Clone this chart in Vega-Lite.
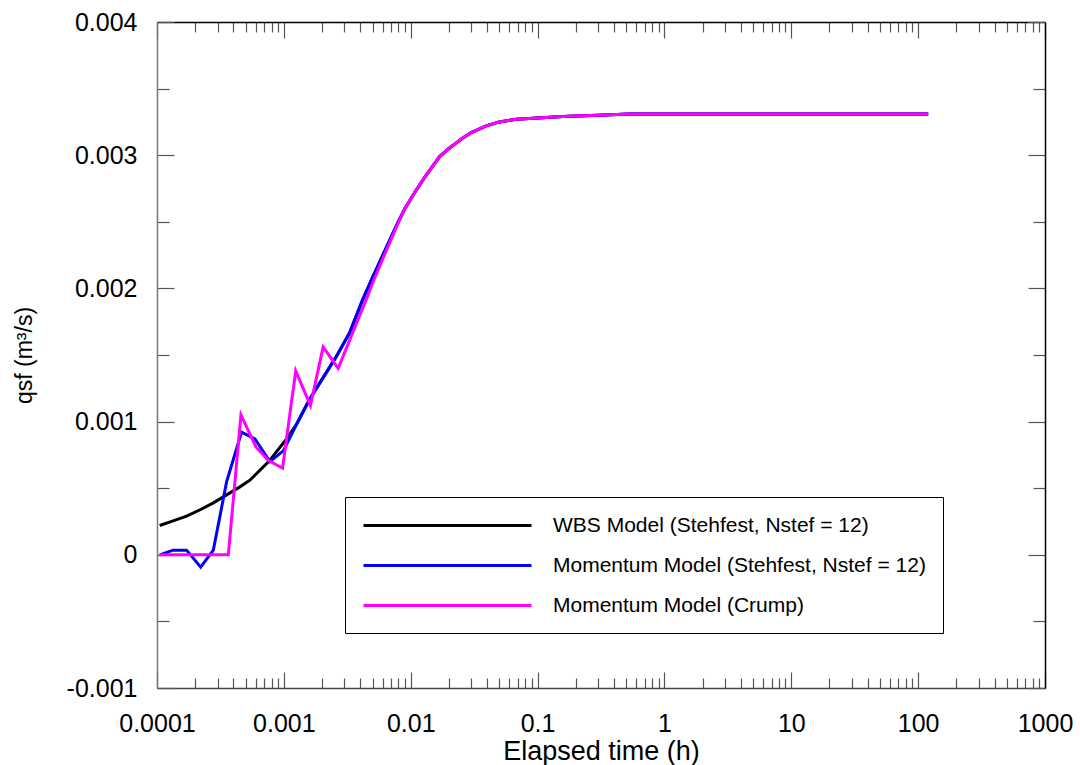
{
  "$schema": "https://vega.github.io/schema/vega-lite/v6.json",
  "width": 888,
  "height": 666,
  "autosize": {"type": "none"},
  "padding": {"left": 157, "top": 22, "right": 35, "bottom": 77},
  "background": "white",
  "config": {
    "view": {"stroke": null},
    "font": "Liberation Sans",
    "axis": {"grid": false, "labelFont": "Liberation Sans", "titleFont": "Liberation Sans", "labelColor": "black", "titleColor": "black", "titleFontWeight": "normal", "tickColor": "#555", "tickWidth": 1.2, "domainWidth": 1.5}
  },
  "data": {
    "values": [
      {"model": "WBS", "t": 0.000105, "q": 0.00022},
      {"model": "WBS", "t": 0.000134, "q": 0.000255},
      {"model": "WBS", "t": 0.000171, "q": 0.00029},
      {"model": "WBS", "t": 0.000221, "q": 0.00034},
      {"model": "WBS", "t": 0.000278, "q": 0.00039},
      {"model": "WBS", "t": 0.000354, "q": 0.00045},
      {"model": "WBS", "t": 0.00045, "q": 0.00051},
      {"model": "WBS", "t": 0.00054, "q": 0.00056},
      {"model": "WBS", "t": 0.000776, "q": 0.00071},
      {"model": "WBS", "t": 0.00105, "q": 0.00087},
      {"model": "WBS", "t": 0.00126, "q": 0.00098},
      {"model": "WBS", "t": 0.0016, "q": 0.00117},
      {"model": "WBS", "t": 0.00204, "q": 0.00133},
      {"model": "WBS", "t": 0.0026, "q": 0.00149},
      {"model": "WBS", "t": 0.00331, "q": 0.00167},
      {"model": "WBS", "t": 0.0042, "q": 0.00192},
      {"model": "WBS", "t": 0.00505, "q": 0.00209},
      {"model": "WBS", "t": 0.0077, "q": 0.00247},
      {"model": "WBS", "t": 0.009, "q": 0.0026},
      {"model": "WBS", "t": 0.0111, "q": 0.00274},
      {"model": "WBS", "t": 0.013, "q": 0.00284},
      {"model": "WBS", "t": 0.0169, "q": 0.00299},
      {"model": "WBS", "t": 0.02, "q": 0.00305},
      {"model": "WBS", "t": 0.0258, "q": 0.00313},
      {"model": "WBS", "t": 0.03, "q": 0.00317},
      {"model": "WBS", "t": 0.0394, "q": 0.00322},
      {"model": "WBS", "t": 0.05, "q": 0.00325},
      {"model": "WBS", "t": 0.068, "q": 0.00327},
      {"model": "WBS", "t": 0.1, "q": 0.00328},
      {"model": "WBS", "t": 0.158, "q": 0.00329},
      {"model": "WBS", "t": 0.3, "q": 0.0033},
      {"model": "WBS", "t": 0.53, "q": 0.00331},
      {"model": "WBS", "t": 2, "q": 0.00331},
      {"model": "WBS", "t": 10, "q": 0.00331},
      {"model": "WBS", "t": 120, "q": 0.00331},

      {"model": "MomS", "t": 0.000105, "q": 0.0},
      {"model": "MomS", "t": 0.000134, "q": 0.000035},
      {"model": "MomS", "t": 0.000171, "q": 0.000035},
      {"model": "MomS", "t": 0.000221, "q": -0.000093},
      {"model": "MomS", "t": 0.000278, "q": 0.000035},
      {"model": "MomS", "t": 0.000354, "q": 0.00055},
      {"model": "MomS", "t": 0.000464, "q": 0.00092},
      {"model": "MomS", "t": 0.000591, "q": 0.00087},
      {"model": "MomS", "t": 0.000776, "q": 0.0007},
      {"model": "MomS", "t": 0.00099, "q": 0.00078},
      {"model": "MomS", "t": 0.00126, "q": 0.00098},
      {"model": "MomS", "t": 0.0016, "q": 0.00117},
      {"model": "MomS", "t": 0.00204, "q": 0.00133},
      {"model": "MomS", "t": 0.0026, "q": 0.00149},
      {"model": "MomS", "t": 0.00331, "q": 0.00167},
      {"model": "MomS", "t": 0.0042, "q": 0.00192},
      {"model": "MomS", "t": 0.00505, "q": 0.00209},
      {"model": "MomS", "t": 0.0077, "q": 0.00247},
      {"model": "MomS", "t": 0.009, "q": 0.0026},
      {"model": "MomS", "t": 0.0111, "q": 0.00274},
      {"model": "MomS", "t": 0.013, "q": 0.00284},
      {"model": "MomS", "t": 0.0169, "q": 0.00299},
      {"model": "MomS", "t": 0.02, "q": 0.00305},
      {"model": "MomS", "t": 0.0258, "q": 0.00313},
      {"model": "MomS", "t": 0.03, "q": 0.00317},
      {"model": "MomS", "t": 0.0394, "q": 0.00322},
      {"model": "MomS", "t": 0.05, "q": 0.00325},
      {"model": "MomS", "t": 0.068, "q": 0.00327},
      {"model": "MomS", "t": 0.1, "q": 0.00328},
      {"model": "MomS", "t": 0.158, "q": 0.00329},
      {"model": "MomS", "t": 0.3, "q": 0.0033},
      {"model": "MomS", "t": 0.53, "q": 0.00331},
      {"model": "MomS", "t": 2, "q": 0.00331},
      {"model": "MomS", "t": 10, "q": 0.00331},
      {"model": "MomS", "t": 120, "q": 0.00331},

      {"model": "MomC", "t": 0.000105, "q": 0.0},
      {"model": "MomC", "t": 0.000365, "q": 0.0},
      {"model": "MomC", "t": 0.000459, "q": 0.00105},
      {"model": "MomC", "t": 0.000602, "q": 0.00081},
      {"model": "MomC", "t": 0.000753, "q": 0.00071},
      {"model": "MomC", "t": 0.000977, "q": 0.00065},
      {"model": "MomC", "t": 0.00124, "q": 0.00138},
      {"model": "MomC", "t": 0.00162, "q": 0.00112},
      {"model": "MomC", "t": 0.00204, "q": 0.00156},
      {"model": "MomC", "t": 0.00268, "q": 0.0014},
      {"model": "MomC", "t": 0.00448, "q": 0.00192},
      {"model": "MomC", "t": 0.00505, "q": 0.00205},
      {"model": "MomC", "t": 0.0077, "q": 0.00246},
      {"model": "MomC", "t": 0.009, "q": 0.0026},
      {"model": "MomC", "t": 0.0111, "q": 0.00274},
      {"model": "MomC", "t": 0.013, "q": 0.00284},
      {"model": "MomC", "t": 0.0169, "q": 0.00299},
      {"model": "MomC", "t": 0.02, "q": 0.00305},
      {"model": "MomC", "t": 0.0258, "q": 0.00313},
      {"model": "MomC", "t": 0.03, "q": 0.00317},
      {"model": "MomC", "t": 0.0394, "q": 0.00322},
      {"model": "MomC", "t": 0.05, "q": 0.00325},
      {"model": "MomC", "t": 0.068, "q": 0.00327},
      {"model": "MomC", "t": 0.1, "q": 0.00328},
      {"model": "MomC", "t": 0.158, "q": 0.00329},
      {"model": "MomC", "t": 0.3, "q": 0.0033},
      {"model": "MomC", "t": 0.53, "q": 0.00331},
      {"model": "MomC", "t": 2, "q": 0.00331},
      {"model": "MomC", "t": 10, "q": 0.00331},
      {"model": "MomC", "t": 120, "q": 0.00331}
    ]
  },
  "layer": [
    {
      "mark": {"type": "line", "strokeWidth": 3},
      "encoding": {
        "x": {
          "field": "t", "type": "quantitative",
          "scale": {"type": "log", "domain": [0.0001, 1000]},
          "axis": {
            "orient": "bottom",
            "title": "Elapsed time (h)",
            "titleFontSize": 27,
            "titlePadding": -4,
            "labelFontSize": 25,
            "labelPadding": 39,
            "domainColor": "#444",
            "values": [0.0001,0.0002,0.0003,0.0004,0.0005,0.0006,0.0007,0.0008,0.0009,0.001,0.002,0.003,0.004,0.005,0.006,0.007,0.008,0.009,0.01,0.02,0.03,0.04,0.05,0.06,0.07,0.08,0.09,0.1,0.2,0.3,0.4,0.5,0.6,0.7,0.8,0.9,1,2,3,4,5,6,7,8,9,10,20,30,40,50,60,70,80,90,100,200,300,400,500,600,700,800,900,1000],
            "labelExpr": "abs(log(datum.value)/LN10 - round(log(datum.value)/LN10)) < 0.001 ? format(datum.value, '~g') : ''",
            "tickSize": {"condition": {"test": "abs(log(datum.value)/LN10 - round(log(datum.value)/LN10)) < 0.001", "value": -16}, "value": -10},
            "labelOverlap": false,
            "labelFlush": false
          }
        },
        "y": {
          "field": "q", "type": "quantitative",
          "scale": {"domain": [-0.001, 0.004], "nice": false, "zero": false},
          "axis": {
            "orient": "left",
            "title": "qsf (m³/s)",
            "titleFontSize": 23,
            "titlePadding": 30,
            "labelFontSize": 25,
            "labelPadding": 37,
            "domainColor": "#777",
            "values": [-0.001,-0.0005,0,0.0005,0.001,0.0015,0.002,0.0025,0.003,0.0035,0.004],
            "labelExpr": "abs(datum.value*1000 - round(datum.value*1000)) < 0.001 ? (abs(datum.value) < 0.0000001 ? '0' : replace(format(datum.value, '.3f'), '−', '-')) : ''",
            "tickSize": {"condition": {"test": "abs(datum.value*1000 - round(datum.value*1000)) < 0.001", "value": -17}, "value": -12},
            "labelOverlap": false,
            "labelFlush": false
          }
        },
        "color": {
          "field": "model", "type": "nominal",
          "scale": {"domain": ["WBS", "MomS", "MomC"], "range": ["#000000", "#0000ff", "#ff00ff"]},
          "legend": {
            "title": null,
            "orient": "none",
            "legendX": 188,
            "legendY": 475,
            "direction": "vertical",
            "symbolType": "M-1,0H15.8",
            "symbolSize": 400,
            "symbolStrokeWidth": 3,
            "labelFontSize": 21,
            "labelFont": "Liberation Sans",
            "labelColor": "black",
            "labelOffset": 168,
            "labelLimit": 700,
            "rowPadding": 18,
            "padding": 17,
            "strokeColor": "black",
            "fillColor": "white",
            "labelExpr": "datum.value == 'WBS' ? 'WBS Model (Stehfest, Nstef = 12)' : datum.value == 'MomS' ? 'Momentum Model (Stehfest, Nstef = 12)' : 'Momentum Model (Crump)'"
          }
        }
      }
    },
    {
      "mark": {"type": "point", "opacity": 0},
      "encoding": {
        "x": {
          "field": "t", "type": "quantitative",
          "axis": {
            "orient": "top", "title": null, "labels": false, "domainColor": "black",
            "values": [0.0001,0.0002,0.0003,0.0004,0.0005,0.0006,0.0007,0.0008,0.0009,0.001,0.002,0.003,0.004,0.005,0.006,0.007,0.008,0.009,0.01,0.02,0.03,0.04,0.05,0.06,0.07,0.08,0.09,0.1,0.2,0.3,0.4,0.5,0.6,0.7,0.8,0.9,1,2,3,4,5,6,7,8,9,10,20,30,40,50,60,70,80,90,100,200,300,400,500,600,700,800,900,1000],
            "tickSize": {"condition": {"test": "abs(log(datum.value)/LN10 - round(log(datum.value)/LN10)) < 0.001", "value": -16}, "value": -10}
          }
        },
        "y": {
          "field": "q", "type": "quantitative",
          "axis": {
            "orient": "right", "title": null, "labels": false, "domainColor": "black",
            "values": [-0.001,-0.0005,0,0.0005,0.001,0.0015,0.002,0.0025,0.003,0.0035,0.004],
            "tickSize": {"condition": {"test": "abs(datum.value*1000 - round(datum.value*1000)) < 0.001", "value": -17}, "value": -12}
          }
        }
      }
    }
  ],
  "resolve": {"axis": {"x": "independent", "y": "independent"}}
}
